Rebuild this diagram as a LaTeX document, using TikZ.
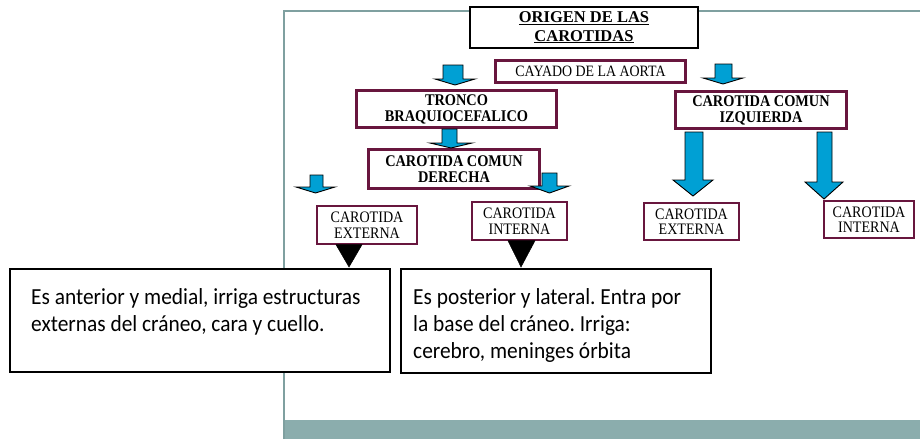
\documentclass[tikz,border=0pt]{standalone}
\usepackage{fontspec}
\setmainfont{Liberation Serif}
\newfontfamily\tallserif[FakeStretch=0.88]{Liberation Serif}
\newfontfamily\calfont[FakeStretch=0.93]{Carlito}
\frenchspacing
\definecolor{mymaroon}{RGB}{104,22,62}
\definecolor{myblue}{RGB}{0,160,212}
\definecolor{frameteal}{RGB}{127,160,160}
\definecolor{bandteal}{RGB}{139,173,173}
\tikzset{
  titlebox/.style={draw=black, line width=2pt, fill=white, inner sep=0pt, align=center,
    font=\bfseries\fontsize{16.5}{18.5}\selectfont},
  mainbox/.style={draw=mymaroon, line width=3pt, fill=white, inner sep=0pt, align=center,
    font=\tallserif\bfseries\fontsize{16.3}{16}\selectfont},
  aortabox/.style={draw=mymaroon, line width=3pt, fill=white, inner sep=0pt, align=center,
    font=\tallserif\fontsize{15.8}{16}\selectfont},
  leafbox/.style={draw=mymaroon, line width=1.4pt, fill=white, inner sep=0pt, align=center,
    font=\tallserif\fontsize{16}{15.5}\selectfont},
  notebox/.style={draw=black, line width=2pt, fill=white, inner sep=0pt},
  notetext/.style={anchor=base west, inner sep=0pt, font=\calfont\fontsize{23}{27}\selectfont},
  blockarrow/.style={fill=myblue, draw=black, line width=0.9pt, line join=miter},
  blacktri/.style={fill=black, draw=black, line width=0.5pt},
  frameline/.style={draw=frameteal, line width=2pt}
}
\newcommand\bluearrow[7]{%
  \draw[blockarrow] (#1,#3) -- (#2,#3) -- (#2,#4) -- (#6,#4) -- ({(#5+#6)/2},#7)
    -- (#5,#4) -- (#1,#4) -- cycle;}
\begin{document}
\begin{tikzpicture}[x=1pt,y=-1pt]
\useasboundingbox (0,0) rectangle (920,439);
% slide frame
\fill[bandteal] (284,420) rectangle (920,439);
\draw[frameline] (284,439) -- (284,11) -- (920,11);

% boxes
\node[titlebox, minimum width=228pt, minimum height=41pt] (title) at (584,27.5)
  {\underline{ORIGEN DE LAS}\\\underline{CAROTIDAS}};
\node[aortabox, minimum width=190pt, minimum height=22pt] (aorta) at (590.5,71.5)
  {CAYADO DE LA AORTA};
\node[mainbox, minimum width=200pt, minimum height=37pt] (tronco) at (456.5,109)
  {TRONCO\\BRAQUIOCEFALICO};
\node[mainbox, minimum width=171pt, minimum height=37pt] (izq) at (761,110)
  {CAROTIDA COMUN\\IZQUIERDA};
\node[mainbox, minimum width=171pt, minimum height=39pt] (der) at (454,169)
  {CAROTIDA COMUN\\DERECHA};
\node[leafbox, minimum width=100pt, minimum height=38pt] (extL) at (367,225)
  {CAROTIDA\\EXTERNA};
\node[leafbox, minimum width=95pt, minimum height=38pt] (intL) at (519.5,221)
  {CAROTIDA\\INTERNA};
\node[leafbox, minimum width=95pt, minimum height=37pt] (extR) at (691.5,221.5)
  {CAROTIDA\\EXTERNA};
\node[leafbox, minimum width=90pt, minimum height=37pt] (intR) at (869,219.5)
  {CAROTIDA\\INTERNA};

% blue block arrows
\bluearrow{443}{463}{65}{79}{435}{475}{85}
\bluearrow{715}{732}{64}{78}{703}{743}{84}
\bluearrow{442}{457}{129}{143}{430}{472}{148}
\bluearrow{310}{323}{175}{187}{296}{335}{193}
\bluearrow{542}{557}{173}{186}{530}{569}{193}
\bluearrow{685}{703}{132}{180}{673}{713}{196}
\bluearrow{817}{832}{132}{182}{805}{843}{199}

% note boxes
\node[notebox, minimum width=380pt, minimum height=103pt] (noteL) at (200,320.5) {};
\node[notebox, minimum width=310pt, minimum height=104pt] (noteR) at (556,321) {};
\node[notetext] (noteLtext) at (31,304)
  {\parbox[t]{345pt}{Es anterior y medial, irriga estructuras\\externas del cráneo, cara y cuello.}};
\node[notetext] (noteRtext) at (413,304)
  {\parbox[t]{295pt}{Es posterior y lateral. Entra por\\la base del cráneo. Irriga:\\cerebro, meninges órbita}};

% black triangles
\draw[blacktri] (extL.south -| 336,0) -- (extL.south -| 362,0) -- (349,267) -- cycle;
\draw[blacktri] (intL.south -| 508,0) -- (intL.south -| 535,0) -- (521,267) -- cycle;
\end{tikzpicture}
\end{document}
